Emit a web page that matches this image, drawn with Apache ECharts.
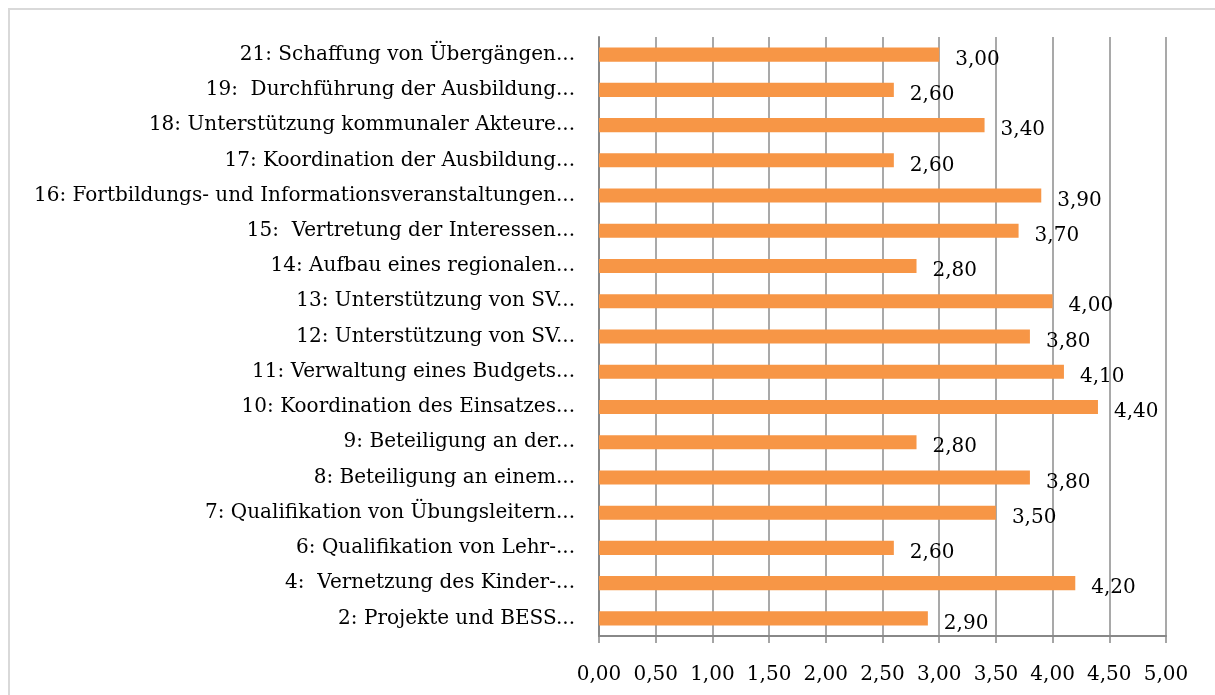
<!DOCTYPE html>
<html>
<head>
<meta charset="utf-8">
<script src="https://cdn.jsdelivr.net/npm/echarts@6/dist/echarts.min.js"></script>
<style>
  html, body { margin: 0; padding: 0; background: #fff; }
  #chart { width: 1215px; height: 695px; }
</style>
</head>
<body>
<div id="chart"></div>
<script>
// categories, top to bottom
const categories = [
  '21: Schaffung von Übergängen...',
  '19:  Durchführung der Ausbildung...',
  '18: Unterstützung kommunaler Akteure...',
  '17: Koordination der Ausbildung...',
  '16: Fortbildungs- und Informationsveranstaltungen...',
  '15:  Vertretung der Interessen...',
  '14: Aufbau eines regionalen...',
  '13: Unterstützung von SV...',
  '12: Unterstützung von SV...',
  '11: Verwaltung eines Budgets...',
  '10: Koordination des Einsatzes...',
  '9: Beteiligung an der...',
  '8: Beteiligung an einem...',
  '7: Qualifikation von Übungsleitern...',
  '6: Qualifikation von Lehr-...',
  '4:  Vernetzung des Kinder-...',
  '2: Projekte und BESS...'
]
const values = [3.0, 2.6, 3.4, 2.6, 3.9, 3.7, 2.8, 4.0, 3.8, 4.1, 4.4, 2.8, 3.8, 3.5, 2.6, 4.2, 2.9]

const font = '"DejaVu Serif", serif'
const fmt = v => v.toFixed(2).replace('.', ',')

const chart = echarts.init(document.getElementById('chart'))
chart.setOption({
  animation: false,
  graphic: [{
    type: 'rect',
    shape: { x: 9, y: 9, width: 1300, height: 800 },
    style: { fill: 'none', stroke: '#d9d9d9', lineWidth: 2 },
    silent: true
  }],
  grid: { left: 599, right: 49, top: 37, bottom: 59, containLabel: false },
  xAxis: {
    type: 'value',
    min: 0,
    max: 5,
    interval: 0.5,
    axisLine: { show: true, lineStyle: { color: '#888', width: 2 } },
    axisTick: { show: true, length: 7, lineStyle: { color: '#888', width: 1.5 } },
    splitLine: { show: true, lineStyle: { color: '#8c8c8c', width: 1.5 } },
    axisLabel: {
      margin: 29,
      color: '#000',
      fontFamily: font,
      fontSize: 20,
      formatter: v => fmt(v)
    }
  },
  yAxis: {
    type: 'category',
    inverse: true,
    data: categories,
    axisLine: { show: true, lineStyle: { color: '#888', width: 2 } },
    axisTick: { show: false },
    axisLabel: {
      margin: 24,
      color: '#000',
      fontFamily: font,
      fontSize: 20
    }
  },
  series: [{
    type: 'bar',
    data: values,
    barCategoryGap: '60%',
    itemStyle: { color: '#f79646' },
    label: {
      show: true,
      position: 'right',
      distance: 16,
      offset: [0, 5],
      color: '#000',
      fontFamily: font,
      fontSize: 20,
      formatter: p => fmt(p.value)
    }
  }]
})
</script>
</body>
</html>
